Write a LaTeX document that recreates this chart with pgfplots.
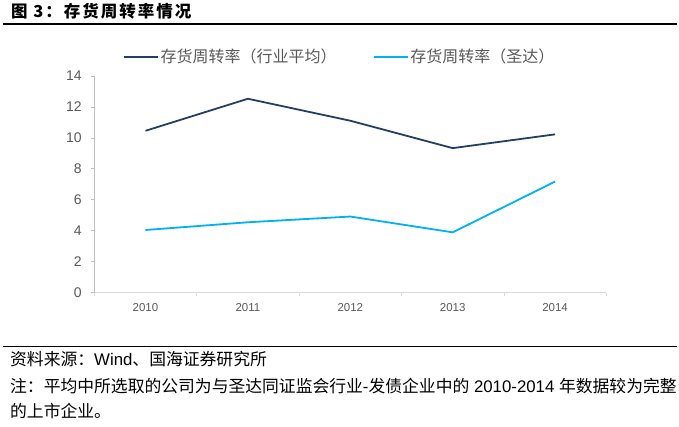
\documentclass[border=0pt]{standalone}
\usepackage{fontspec}
\setmainfont{Liberation Sans}
\newfontfamily\cjk{Noto Sans CJK SC}
\usepackage{pgfplots}
\pgfplotsset{compat=1.18}

\definecolor{navy}{HTML}{243F60}
\definecolor{sky}{HTML}{00B0F0}
\definecolor{tickgray}{HTML}{595959}
\definecolor{yaxgray}{HTML}{BFBFBF}
\definecolor{xaxgray}{HTML}{D9D9D9}

\newcommand{\zh}[1]{{\cjk #1}}

\begin{document}
\begin{tikzpicture}
\path[use as bounding box] (0bp,0bp) rectangle (679bp,427bp);

% title and rule
\node[anchor=base west, inner sep=0pt] at (11bp,409bp)
  {\fontsize{16.5bp}{18bp}\selectfont\cjk\bfseries\addfontfeatures{LetterSpace=12}图 3：存货周转率情况};
\draw[line width=1.5bp] (3bp,403bp) -- (677bp,403bp);

\begin{axis}[
  at={(94.3bp,134.3bp)}, anchor=south west,
  scale only axis, width=512bp, height=216.7bp,
  xmin=2009.5, xmax=2014.5, ymin=0, ymax=14,
  xtick={2010,2011,2012,2013,2014},
  minor xtick={2009.5,2010.5,2011.5,2012.5,2013.5,2014.5},
  ytick={0,2,4,6,8,10,12,14},
  axis x line*=bottom, axis y line*=left,
  x axis line style={draw=xaxgray, line width=0.8bp, -},
  y axis line style={draw=yaxgray, line width=0.8bp, -},
  tick align=outside,
  major tick length=3bp, minor tick length=3bp,
  xtick style={draw=none},
  minor x tick style={draw=xaxgray, line width=0.8bp},
  ytick style={draw=yaxgray, line width=0.8bp},
  /pgf/number format/assume math mode=true,
  /pgf/number format/1000 sep={},
  xticklabel style={font=\fontsize{11.5bp}{13bp}\selectfont, text=tickgray, yshift=-4.5bp},
  yticklabel style={font=\fontsize{14bp}{16bp}\selectfont, text=tickgray, xshift=-6bp},
  legend columns=2,
  legend style={draw=none, fill=none, inner sep=0pt, anchor=west,
    at={(0.0555,1.089)},
    font=\fontsize{16bp}{18bp}\selectfont\cjk, text=tickgray,
    /tikz/every even column/.append style={column sep=34bp}},
  legend cell align=left,
  legend image code/.code={\draw[#1] (0bp,0bp) -- (34bp,0bp);},
]
\addplot[navy, line width=1.8bp] coordinates {
  (2010,10.46) (2011,12.53) (2012,11.11) (2013,9.34) (2014,10.23)};
\addlegendentry{存货周转率（行业平均）}
\addplot[sky, line width=1.8bp] coordinates {
  (2010,4.05) (2011,4.55) (2012,4.92) (2013,3.90) (2014,7.18)};
\addlegendentry{存货周转率（圣达）}
\end{axis}

% footer
\draw[line width=1.2bp] (3bp,80.3bp) -- (677bp,80.3bp);
\begin{scope}[every node/.style={anchor=base west, inner sep=0pt,
    font=\fontsize{16.8bp}{18bp}\selectfont}]
\node at (10bp,61bp) {\zh{资料来源：}Wind\zh{、国海证券研究所}};
\node at (10bp,35bp) {\zh{注：平均中所选取的公司为与圣达同证监会行业}-\zh{发债企业中的} 2010-2014 \zh{年数据较为完整}};
\node at (10bp,10bp) {\zh{的上市企业。}};
\end{scope}
\end{tikzpicture}
\end{document}
